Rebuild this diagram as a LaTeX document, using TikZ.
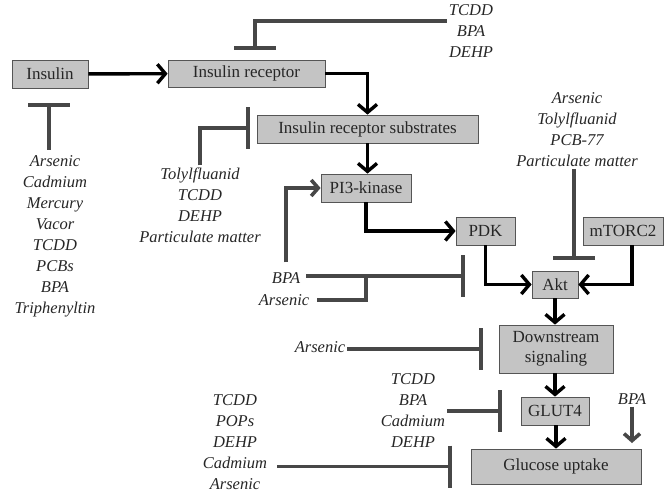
\documentclass[tikz,border=0pt]{standalone}
\usepackage{fontspec}
\setmainfont{Liberation Serif}
\usetikzlibrary{arrows.meta}
\definecolor{boxgray}{HTML}{C4C4C4}
\definecolor{edgegray}{HTML}{555555}
\definecolor{inhgray}{HTML}{474747}
\tikzset{
  box/.style={draw=edgegray, fill=boxgray, line width=0.8pt, inner sep=0pt, text=black!85, font=\fontsize{17}{20}\selectfont},
  chem/.style={align=center, inner sep=2pt, text=black!85, font=\fontsize{16.5}{21}\selectfont\itshape},
  flow/.style={line width=3.4pt, -{Straight Barb[length=8pt,width=19pt]}},
  inhib/.style={draw=inhgray, line width=3.6pt, -{Bar[width=42pt]}},
  activ/.style={draw=inhgray, line width=3.6pt, -{Straight Barb[length=7pt,width=16pt]}},
  plain/.style={draw=inhgray, line width=3.6pt},
}
\begin{document}
\begin{tikzpicture}[x=1pt, y=-1pt]
  \useasboundingbox (0,0) rectangle (669,501);
  % signalling boxes
  \node[box, minimum width=76pt, minimum height=28pt] (ins) at (50,74) {Insulin};
  \node[box, minimum width=157pt, minimum height=27pt] (recep) at (246.5,73.5) {Insulin receptor};
  \node[box, minimum width=221pt, minimum height=28pt] (irs) at (367.5,129) {Insulin receptor substrates};
  \node[box, minimum width=90pt, minimum height=28pt] (pi3) at (366,188) {PI3-kinase};
  \node[box, minimum width=59pt, minimum height=28pt] (pdk) at (485.5,231) {PDK};
  \node[box, minimum width=80pt, minimum height=28pt] (mtor) at (623,231) {mTORC2};
  \node[box, minimum width=46pt, minimum height=27pt] (akt) at (555,284.5) {Akt};
  \node[box, minimum width=114pt, minimum height=48pt, align=center] (down) at (556,349) {Downstream\\signaling};
  \node[box, minimum width=68pt, minimum height=28pt] (glut) at (555,411) {GLUT4};
  \node[box, minimum width=170pt, minimum height=35pt] (gluc) at (556,466.5) {Glucose uptake};

  % toxicant lists
  \node[chem] (tox1) at (471,31) {TCDD\\BPA\\DEHP};
  \node[chem] (tox2) at (55,236.5) {Arsenic\\Cadmium\\Mercury\\Vacor\\TCDD\\PCBs\\BPA\\Triphenyltin};
  \node[chem] (tox3) at (200,205) {Tolylfluanid\\TCDD\\DEHP\\Particulate matter};
  \node[chem] (tox4) at (577,129.5) {Arsenic\\Tolylfluanid\\PCB-77\\Particulate matter};
  \node[chem] (tox5) at (286,278) {BPA};
  \node[chem] (tox6) at (284,300) {Arsenic};
  \node[chem] (tox7) at (320,347) {Arsenic};
  \node[chem] (tox8) at (413,410.5) {TCDD\\BPA\\Cadmium\\DEHP};
  \node[chem] (tox9) at (235,442) {TCDD\\POPs\\DEHP\\Cadmium\\Arsenic};
  \node[chem] (tox10) at (632,399) {BPA};

  % free ends
  \coordinate (recin) at (255,50);
  \coordinate (insin) at (49,103);
  \coordinate (irsin) at (250,128);
  \coordinate (aktin) at (574,260);
  \coordinate (bpain) at (465,276);
  \coordinate (asjoin) at (366,276);

  % main pathway
  \draw[flow] (ins) -- (recep);
  \draw[flow] (recep.east) -| (irs.north);
  \draw[flow] (irs.south) -- (irs.south |- pi3.north);
  \draw[flow] (pi3.south) |- (pdk.west);
  \draw[flow] (pdk.south) |- (akt.west);
  \draw[flow] ([xshift=9pt]mtor.south) |- (akt.east);
  \draw[flow] (akt.south) -- (akt.south |- down.north);
  \draw[flow] (down.south -| glut.north) -- (glut.north);
  \draw[flow] (glut.south -| gluc.north) -- (gluc.north);

  % toxicant effects
  \draw[inhib] ([yshift=10pt]tox1.west) -| (recin);
  \draw[inhib, shorten <=4pt] (tox2.north -| insin) -- (insin);
  \draw[inhib] (tox3.north) |- (irsin);
  \draw[inhib] (tox4.south -| aktin) -- (aktin);
  \draw[activ, shorten <=8pt] (tox5.north) |- (pi3.west);
  \draw[inhib, shorten <=4pt] (tox5.east |- bpain) -- (bpain);
  \draw[plain, shorten <=6pt] (tox6.east) -| (asjoin);
  \draw[inhib] (tox7.east |- down.west) -- ([xshift=-16pt]down.west);
  \draw[inhib] (tox8.east |- glut.west) -- ([xshift=-19pt]glut.west);
  \draw[inhib, shorten <=8pt] (tox9.east |- gluc.west) -- ([xshift=-19pt]gluc.west);
  \draw[activ] (tox10.south) -- (tox10.south |- 0,443);
\end{tikzpicture}
\end{document}
